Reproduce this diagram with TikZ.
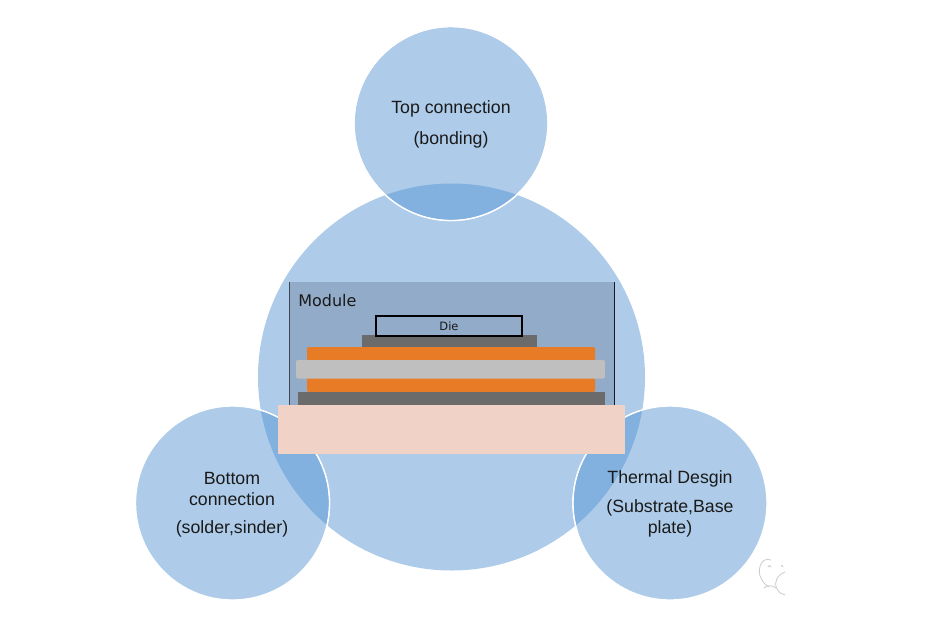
\documentclass[tikz,border=0pt]{standalone}
\usepackage{fontspec}
\setmainfont{Liberation Sans}
\definecolor{disc}{HTML}{AECCE9}
\definecolor{lens}{HTML}{82B0DF}
\definecolor{modbg}{HTML}{92ABC8}
\definecolor{copper}{HTML}{E87B26}
\definecolor{ceramic}{HTML}{BFBFBF}
\definecolor{solderc}{HTML}{6B6B6B}
\definecolor{baseplate}{HTML}{F0D2C6}
\definecolor{ink}{HTML}{1A1A1A}
\tikzset{
  smalldisc/.style={circle,minimum size=194pt*0.75,inner sep=0pt,fill=disc,draw=white,line width=1pt},
  lbl/.style={font=\fontsize{13.3pt}{15pt}\selectfont,text=ink,align=center},
  layer/.style={fill=#1,draw=none},
  wm/.style={draw=gray!40,line width=0.6pt,line cap=round}
}
\begin{document}
\begin{tikzpicture}[x=0.75pt,y=-0.75pt]
\useasboundingbox (0,0) rectangle (930,625);
\fill[white] (0,0) rectangle (930,625);
% main disc
\node[circle,minimum size=387pt*0.75,inner sep=0pt,fill=disc] (main) at (451.5,377) {};
% small discs
\node[smalldisc] (top) at (451,123.5) {};
\node[smalldisc] (left) at (232.5,503) {};
\node[smalldisc] (right) at (670,503) {};
% overlaps
\begin{scope}
  \clip (451.5,377) circle [radius=193.5];
  \fill[lens] (451,123.5) circle [radius=96.5];
  \fill[lens] (232.5,503) circle [radius=96.5];
  \fill[lens] (670,503) circle [radius=96.5];
\end{scope}
\draw[white,line width=1pt] (451,123.5) circle [radius=97];
\begin{scope}
  \clip (451.5,377) circle [radius=193.5];
  \draw[white,line width=1pt] (232.5,503) circle [radius=97];
  \draw[white,line width=1pt] (670,503) circle [radius=97];
\end{scope}
% module
\fill[modbg] (289,282) rectangle (614,405);
\draw[color=ink!70!modbg,line width=0.55pt] (289,282) -- (289,405);
\draw[color=ink,line width=0.55pt] (614,282) -- (614,405);
\node[anchor=west,inner sep=0pt,font=\fontsize{12pt}{14pt}\selectfont\fontspec{DejaVu Sans},text=ink] (modlabel) at (298,300.5) {Module};
\fill[solderc] (362,335) rectangle (537,347);
\node[draw=black,line width=1pt,minimum width=146*0.75pt,minimum height=20*0.75pt,inner sep=0pt,font=\fontsize{8.6pt}{9pt}\selectfont\fontspec{DejaVu Sans},text=ink] (die) at (449,326) {Die};
\fill[copper,rounded corners=1pt] (307,347) rectangle (595,361);
\fill[copper,rounded corners=1pt] (307,377) rectangle (595,392);
\fill[ceramic,rounded corners=1pt] (296,360) rectangle (605,378.5);
\fill[solderc] (298,392) rectangle (605,405);
\fill[baseplate] (278,405) rectangle (625,454);
% labels
\node[lbl] (t1) at (451,109) {Top connection};
\node[lbl] (t2) at (451,139.5) {(bonding)};
\node[lbl] (l1) at (232,478.5) {Bottom};
\node[lbl] (l2) at (232,499.5) {connection};
\node[lbl] (l3) at (232,529) {(solder,sinder)};
\node[lbl] (r1) at (670,478.5) {Thermal Desgin};
\node[lbl] (r2) at (670,508) {(Substrate,Base};
\node[lbl] (r3) at (670,529) {plate)};
% watermark
\begin{scope}
  \clip (750,550) rectangle (785,600);
  \draw[wm] (771,560) .. controls (760,556) and (757,572) .. (761,578) .. controls (763,583) and (766,585) .. (769,587);
  \draw[wm] (764,588) .. controls (767,585) and (772,585) .. (776,588);
  \draw[wm] (768,567) .. controls (768,565) and (771,565) .. (771,567);
  \draw[wm] (781,566) .. controls (781,565) and (783,565) .. (783,567);
  \draw[wm] (785,572) .. controls (778,574) and (773,582) .. (777,589) .. controls (779,593) and (782,594) .. (785,595);
\end{scope}
\end{tikzpicture}
\end{document}
